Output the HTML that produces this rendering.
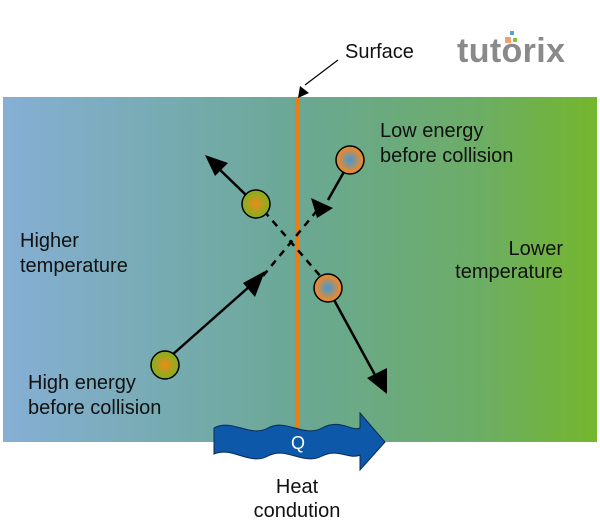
<!DOCTYPE html><html><head><style>body{margin:0;background:#fff}svg{display:block}text{font-family:"Liberation Sans",sans-serif;font-size:20px;fill:#111}</style></head><body>
<svg width="600" height="529" viewBox="0 0 600 529">
<defs>
<linearGradient id="bg" x1="0" x2="1"><stop offset="0" stop-color="#86afd5"/><stop offset="0.5" stop-color="#6aa894"/><stop offset="0.8" stop-color="#6cad66"/><stop offset="1" stop-color="#74b62c"/></linearGradient>
<radialGradient id="g"><stop offset="0" stop-color="#f08a18"/><stop offset="0.8" stop-color="#8fac20"/></radialGradient>
<radialGradient id="o"><stop offset="0" stop-color="#3d9ad8"/><stop offset="0.8" stop-color="#e08a38"/></radialGradient>
</defs>
<rect x="3" y="97" width="594" height="345" fill="url(#bg)"/>
<rect x="295" y="97" width="5" height="335" fill="#ec7c14"/>
<g stroke="#000" stroke-width="2.5" fill="none">
<line x1="246" y1="195" x2="215" y2="165"/>
<line x1="163" y1="363" x2="250" y2="286"/>
<line x1="345" y1="170" x2="328" y2="200"/>
<line x1="333" y1="298" x2="375" y2="375"/>
<line x1="264" y1="211" x2="322" y2="278" stroke-dasharray="7,6"/>
<line x1="263" y1="276" x2="320" y2="207" stroke-dasharray="7,6"/>
<line x1="305" y1="85" x2="338" y2="60" stroke-width="1.2"/>
</g>
<path d="M205,155 L228,163 L215,176z" fill="#000"/>
<path d="M265,271 L243,283 L255,297z" fill="#000"/>
<path d="M317,218 L311,198 L333,208z" fill="#000"/>
<path d="M387,394 L367,378 L387,368z" fill="#000"/>
<path d="M298,98 L300,86 L309,93z" fill="#000"/>
<circle cx="256" cy="204" r="14" fill="url(#g)" stroke="#000" stroke-width="1.5"/>
<circle cx="165" cy="365" r="14" fill="url(#g)" stroke="#000" stroke-width="1.5"/>
<circle cx="350" cy="160" r="14" fill="url(#o)" stroke="#000" stroke-width="1.5"/>
<circle cx="328" cy="288" r="14" fill="url(#o)" stroke="#000" stroke-width="1.5"/>
<path d="M214,428 C232,418 250,438 268,428 C286,418 304,438 322,428 C340,418 352,432 360,428 L360,413 L385,442 L360,470 L360,455 C350,460 338,448 322,456 C304,466 286,446 268,456 C250,466 232,446 214,454 Z" fill="#0d58a8" stroke="#062a55" stroke-width="1"/>
<text x="298" y="449" text-anchor="middle" style="fill:#fff;font-size:18px">Q</text>
<text x="345" y="58">Surface</text>
<text x="380" y="137">Low energy</text><text x="380" y="162">before collision</text>
<text x="20" y="247">Higher</text><text x="20" y="272">temperature</text>
<text x="563" y="255" text-anchor="end">Lower</text><text x="563" y="278" text-anchor="end">temperature</text>
<text x="28" y="389">High energy</text><text x="28" y="414">before collision</text>
<text x="297" y="493" text-anchor="middle">Heat</text><text x="297" y="517" text-anchor="middle">condution</text>
<text x="457" y="62" textLength="108" style="font-size:34px;font-weight:bold;fill:#8a8a8a">tutorix</text>
<rect x="505" y="37" width="6" height="6" fill="#f0a070"/><rect x="510" y="31" width="4" height="4" fill="#5aa0d8"/><rect x="513" y="38" width="4" height="4" fill="#8ac040"/>
</svg></body></html>
